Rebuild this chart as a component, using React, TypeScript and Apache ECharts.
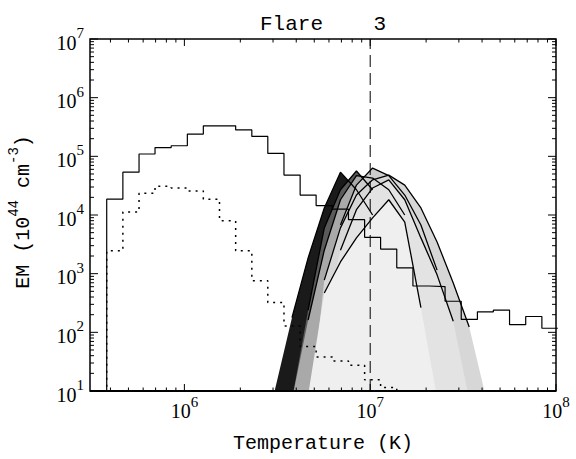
import { useEffect, useRef } from 'react';
import * as echarts from 'echarts';

const X_MIN = 3.105e5;
const X_MAX = 1e8;
const Y_MIN = 10;
const Y_MAX = 1e7;

// Histogram bin edges, log10 T (K)
const binEdgesLogT = [
  5.582, 5.669, 5.756, 5.842, 5.929, 6.016, 6.102, 6.189, 6.276, 6.363,
  6.449, 6.536, 6.623, 6.709, 6.796, 6.883, 6.970, 7.056, 7.143, 7.230,
  7.317, 7.403, 7.490, 7.577, 7.663, 7.750, 7.837, 7.924, 8.010,
];
// Solid histogram, log10 EM per bin
const solidLogEM = [
  4.27, 4.73, 5.04, 5.15, 5.18, 5.38, 5.52, 5.52, 5.45, 5.34,
  5.05, 4.68, 4.34, 4.16, 4.10, 3.92, 3.62, 3.42, 3.10, 2.79,
  2.78, 2.53, 2.22, 2.35, 2.38, 2.13, 2.27, 2.07,
];
// Dotted histogram, log10 EM per bin
const dottedLogEM = [
  3.39, 4.05, 4.37, 4.49, 4.46, 4.41, 4.27, 3.90, 3.39, 2.88,
  2.51, 2.11, 1.76, 1.58, 1.51, 1.44, 1.19, 1.06, 0.80,
];

// Shaded model DEM curves: temperatures (log10 T) and log10 EM
const curveLogT = [
  6.406, 6.493, 6.579, 6.666, 6.753, 6.840, 6.926, 7.013,
  7.100, 7.186, 7.273, 7.360, 7.447, 7.533, 7.620, 7.707,
];
const curve1LogEM = [-0.05, 1.10, 2.25, 3.27, 4.12, 4.73, 4.43, 4.00, 3.40, 2.55, 1.53, 0.34, null, null, null, null];
const curve2LogEM = [null, null, 0.85, 2.38, 3.78, 4.43, 4.75, 4.43, 3.92, 3.23, 2.21, 0.85, null, null, null, null];
const curve3LogEM = [null, null, 0.85, 2.21, 3.40, 4.26, 4.67, 4.63, 4.43, 4.00, 3.23, 2.04, 0.68, null, null, null];
const curve4LogEM = [null, null, null, 0.51, 2.55, 3.83, 4.51, 4.80, 4.67, 4.34, 3.83, 3.06, 2.04, 0.85, null, null];
const curve5LogEM = [null, null, null, 0.34, 2.89, 3.78, 4.34, 4.60, 4.68, 4.51, 4.12, 3.54, 2.84, 2.09, 0.93, null];
const curve6LogEM = [null, null, null, 0.51, 2.21, 3.40, 4.09, 4.46, 4.60, 4.26, 3.61, 2.98, 2.19, 0.85, null, null];
const curve7LogEM = [null, null, null, 0.93, 2.67, 3.20, 3.61, 3.95, 4.26, 3.88, 2.42, 0.88, null, null, null, null];

const curves = [curve1LogEM, curve2LogEM, curve3LogEM, curve4LogEM, curve5LogEM, curve6LogEM, curve7LogEM];
// styles: fill colour and outlined index range
const curveStyles = [
  { fill: '#1a1a1a', from: 2, to: 7 },
  { fill: '#5a5a5a', from: 3, to: 7 },
  { fill: '#a9a9a9', from: 3, to: 9 },
  { fill: '#cdcdcd', from: 5, to: 11 },
  { fill: '#d7d7d7', from: 4, to: 13 },
  { fill: '#e3e3e3', from: 5, to: 12 },
  { fill: '#efefef', from: 4, to: 10 },
];

const xTickValues: number[] = [];
for (let e = 5; e <= 7; e++) for (let m = 1; m <= 9; m++) { const v = m * Math.pow(10, e); if (v > X_MIN && v < X_MAX) xTickValues.push(v); }
xTickValues.push(X_MAX);
const yTickValues: number[] = [];
for (let e = 1; e <= 6; e++) for (let m = 1; m <= 9; m++) yTickValues.push(m * Math.pow(10, e));
yTickValues.push(Y_MAX);

const p10 = (v: number) => Math.pow(10, v);
const isDecade = (v: number) => { const l = Math.log10(v); return Math.abs(l - Math.round(l)) < 1e-6; };

function stepPoints(edges: number[], vals: number[]) {
  const pts: number[][] = [[p10(edges[0]), 1]];
  vals.forEach((v, i) => {
    pts.push([p10(edges[i]), p10(v)]);
    pts.push([p10(edges[i + 1]), p10(v)]);
  });
  return pts;
}

const labelRich = {
  b: { fontFamily: 'Liberation Serif', fontSize: 20, color: '#000', padding: [7, 0, 0, 0], verticalAlign: 'bottom' },
  s: { fontFamily: 'Liberation Serif', fontSize: 15, color: '#000', verticalAlign: 'top' },
};
const labelFmt = (v: number) => (isDecade(v) ? `{b|10}{s|${Math.round(Math.log10(v))}}` : '');

export default function App() {
  const ref = useRef<HTMLDivElement>(null);
  useEffect(() => {
    document.body.style.margin = '0';
    if (!ref.current) return;
    const chart = echarts.init(ref.current, null, { renderer: 'svg' });

    const series: any[] = [];
    curves.forEach((c, ci) => {
      const st = curveStyles[ci];
      const pts: number[][] = [];
      c.forEach((v, i) => { if (v !== null) pts.push([p10(curveLogT[i]), p10(v as number)]); });
      series.push({
        type: 'line', data: pts, symbol: 'none', silent: true, clip: true, z: 1 + ci,
        lineStyle: { width: 0, opacity: 0 },
        areaStyle: { color: st.fill, opacity: 1, origin: 'start' },
      });
    });
    curves.forEach((c, ci) => {
      const st = curveStyles[ci];
      const op: number[][] = [];
      for (let i = st.from; i <= st.to; i++) { const v = c[i]; if (v !== null) op.push([p10(curveLogT[i]), p10(v as number)]); }
      series.push({
        type: 'line', data: op, symbol: 'none', silent: true, clip: true, z: 12,
        lineStyle: { color: '#000', width: 1.3 },
      });
    });
    series.push({
      type: 'line', data: stepPoints(binEdgesLogT, solidLogEM), symbol: 'none', silent: true, clip: true, z: 20,
      lineStyle: { color: '#000', width: 1.2 },
    });
    series.push({
      type: 'line', data: stepPoints(binEdgesLogT, dottedLogEM), symbol: 'none', silent: true, clip: true, z: 20,
      lineStyle: { color: '#000', width: 1.5, type: [2, 5] },
    });
    series.push({
      type: 'line', data: [[1e7, Y_MIN], [1e7, Y_MAX]], symbol: 'none', silent: true, clip: true, z: 20,
      lineStyle: { color: '#000', width: 1, type: [12, 6] },
    });
    series.push({
      type: 'custom', silent: true, z: 30,
      data: xTickValues.map((v) => [v, Y_MIN]),
      renderItem: (params: any, api: any) => {
        const v = api.value(0);
        const len = isDecade(v) ? 7 : 3.5;
        const b = api.coord([v, Y_MIN]);
        const t = api.coord([v, Y_MAX]);
        const children: any[] = [
          { type: 'line', shape: { x1: b[0], y1: b[1], x2: b[0], y2: b[1] - len }, style: { stroke: '#000', lineWidth: 1 } },
          { type: 'line', shape: { x1: t[0], y1: t[1], x2: t[0], y2: t[1] + len }, style: { stroke: '#000', lineWidth: 1 } },
        ];
        if (params.dataIndex === 0) {
          const tl = api.coord([X_MIN, Y_MAX]);
          const br = api.coord([X_MAX, Y_MIN]);
          children.push({ type: 'rect', shape: { x: tl[0], y: tl[1], width: br[0] - tl[0], height: br[1] - tl[1] }, style: { fill: 'none', stroke: '#000', lineWidth: 1.5 } });
          children.push({ type: 'line', shape: { x1: tl[0], y1: br[1], x2: br[0], y2: br[1] }, style: { stroke: '#000', lineWidth: 2 } });
        }
        return { type: 'group', children };
      },
    });
    series.push({
      type: 'custom', silent: true, z: 30,
      data: yTickValues.map((v) => [X_MIN, v]),
      renderItem: (params: any, api: any) => {
        const v = api.value(1);
        const len = isDecade(v) ? 8 : 4;
        const l = api.coord([X_MIN, v]);
        const r = api.coord([X_MAX, v]);
        return {
          type: 'group', children: [
            { type: 'line', shape: { x1: l[0], y1: l[1], x2: l[0] + len, y2: l[1] }, style: { stroke: '#000', lineWidth: 1 } },
            { type: 'line', shape: { x1: r[0], y1: r[1], x2: r[0] - len, y2: r[1] }, style: { stroke: '#000', lineWidth: 1 } },
          ],
        };
      },
    });

    chart.setOption({
      animation: false,
      backgroundColor: '#fff',
      grid: { left: 90, top: 39, width: 466, height: 352, show: false },
      xAxis: {
        type: 'log', logBase: 10, min: X_MIN, max: X_MAX,
        axisLine: { show: false }, axisTick: { show: false }, splitLine: { show: false },
        axisLabel: { formatter: labelFmt, rich: labelRich, margin: 3, showMinLabel: true, showMaxLabel: true },
      },
      yAxis: {
        type: 'log', logBase: 10, min: Y_MIN, max: Y_MAX,
        axisLine: { show: false }, axisTick: { show: false }, splitLine: { show: false },
        axisLabel: { formatter: labelFmt, rich: labelRich, margin: 6, showMinLabel: true, showMaxLabel: true },
      },
      graphic: [
        { type: 'text', x: 323, y: 24, style: { text: 'Flare    3', fontFamily: 'Liberation Mono', fontSize: 21, fill: '#000', align: 'center', verticalAlign: 'middle', textAlign: 'center', textVerticalAlign: 'middle' } },
        { type: 'text', x: 323, y: 443, style: { text: 'Temperature (K)', fontFamily: 'Liberation Mono', fontSize: 20, fill: '#000', align: 'center', verticalAlign: 'middle', textAlign: 'center', textVerticalAlign: 'middle' } },
        {
          type: 'text', x: 20, y: 212, rotation: Math.PI / 2,
          style: {
            text: '{a|EM (10}{s|44}{a| cm}{s|-3}{a|)}',
            fill: '#000', align: 'center', verticalAlign: 'middle', textAlign: 'center', textVerticalAlign: 'middle',
            rich: {
              a: { fontFamily: 'Liberation Mono', fontSize: 20, fill: '#000', color: '#000', padding: [6, 0, 0, 0], verticalAlign: 'bottom' },
              s: { fontFamily: 'Liberation Mono', fontSize: 14, fill: '#000', color: '#000', verticalAlign: 'top' },
            },
          },
        },
      ],
      series,
    });
    return () => chart.dispose();
  }, []);
  return <div ref={ref} style={{ width: 576, height: 459 }} />;
}
